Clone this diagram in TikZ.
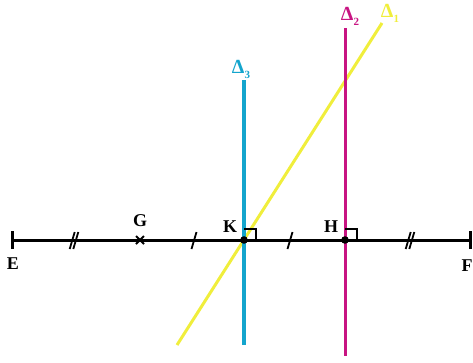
\documentclass[tikz,border=0pt]{standalone}
\usepackage{fontspec}
\setmainfont{Liberation Serif}
\begin{document}
\begin{tikzpicture}[x=1pt,y=-1pt,
  seg/.style={line width=3pt,black},
  tickm/.style={line width=1.8pt,black},
  lbl/.style={font=\bfseries\fontsize{18}{18}\selectfont,inner sep=0pt},
  dlbl/.style={font=\bfseries\fontsize{20}{20}\selectfont,inner sep=0pt},
  rmark/.style={line width=1.4pt,black}]
\definecolor{dcyan}{RGB}{20,165,205}
\definecolor{dmag}{RGB}{200,20,130}
\definecolor{dyel}{RGB}{240,238,60}
\newcommand{\dsub}[1]{Δ\raisebox{-5pt}{\fontsize{11}{11}\selectfont #1}}
\useasboundingbox (0,0) rectangle (473,362);
% points
\coordinate (E) at (12,240);
\coordinate (F) at (470,240);
\coordinate (G) at (140,240);
\coordinate (K) at (244,240);
\coordinate (H) at (345,240);
% yellow line
\coordinate (Y1) at (177,345);
\coordinate (Y2) at (382,23);
\draw[dyel,line width=3pt] (Y1) -- (Y2);
% blue and magenta lines
\coordinate (B1) at (244,80);
\coordinate (B2) at (244,345);
\coordinate (M1) at (345.5,28);
\coordinate (M2) at (345.5,356);
\draw[dcyan,line width=3.6pt] (B1) -- (B2);
\draw[dmag,line width=3.2pt] (M1) -- (M2);
% main segment
\draw[seg] (E) -- (F);
\draw[seg] ([yshift=-9]E) -- ([yshift=9]E);
\draw[seg] ([yshift=-9]F) -- ([yshift=9]F);
% tick marks
\foreach \xx in {194,290} {\draw[tickm] (\xx+2.5,232) -- (\xx-2.5,249);}
\foreach \xx in {74,410} {
  \draw[tickm] (\xx+2.5-1.8,232) -- (\xx-2.5-1.8,249);
  \draw[tickm] (\xx+2.5+1.8,232) -- (\xx-2.5+1.8,249);}
% G mark
\draw[tickm] (136,236) -- (144,244);
\draw[tickm] (136,244) -- (144,236);
% right angle marks
\draw[rmark] (244,229) -- (256,229) -- (256,240);
\draw[rmark] (345,229) -- (357,229) -- (357,240);
% dots
\fill (K) circle (3.8pt);
\fill (H) circle (3.8pt);
% labels
\node[lbl] (lE) at (13,264) {E};
\node[lbl] (lF) at (467,266) {F};
\node[lbl] (lG) at (140,221) {G};
\node[lbl] (lK) at (230,227) {K};
\node[lbl] (lH) at (331,227) {H};
\node[dlbl,text=dcyan] (l3) at (241,69) {\dsub{3}};
\node[dlbl,text=dmag] (l2) at (350,16) {\dsub{2}};
\node[dlbl,text=dyel] (l1) at (390,13) {\dsub{1}};
\end{tikzpicture}
\end{document}
